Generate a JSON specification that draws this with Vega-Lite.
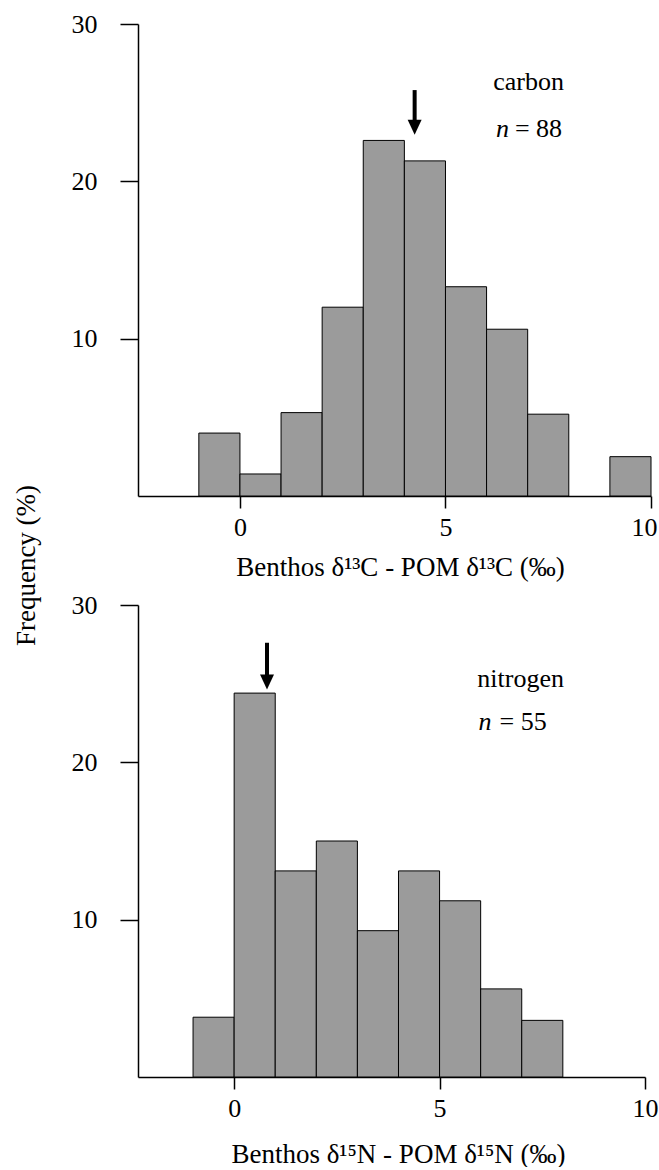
{
  "$schema": "https://vega.github.io/schema/vega-lite/v6.json",
  "background": "white",
  "padding": {"left": 12, "top": 11, "right": 2, "bottom": 0},
  "bounds": "flush",
  "spacing": 109,
  "config": {
    "view": {"stroke": null},
    "font": "Liberation Serif, Times New Roman, serif",
    "axis": {
      "domainColor": "black",
      "domainWidth": 1.5,
      "tickColor": "black",
      "tickWidth": 1.5,
      "labelColor": "black",
      "labelFont": "Liberation Serif, Times New Roman, serif",
      "labelFontSize": 26,
      "titleFont": "Liberation Serif, Times New Roman, serif",
      "titleFontSize": 27,
      "titleFontWeight": "normal",
      "titleColor": "black",
      "grid": false,
      "labelFlush": false,
      "labelOverlap": false
    }
  },
  "datasets": {
    "carbon": [
      {"bin_start": -1, "bin_end": 0, "freq": 4.0},
      {"bin_start": 0, "bin_end": 1, "freq": 1.4},
      {"bin_start": 1, "bin_end": 2, "freq": 5.3},
      {"bin_start": 2, "bin_end": 3, "freq": 12.0},
      {"bin_start": 3, "bin_end": 4, "freq": 22.6},
      {"bin_start": 4, "bin_end": 5, "freq": 21.3},
      {"bin_start": 5, "bin_end": 6, "freq": 13.3},
      {"bin_start": 6, "bin_end": 7, "freq": 10.6},
      {"bin_start": 7, "bin_end": 8, "freq": 5.2},
      {"bin_start": 9, "bin_end": 10, "freq": 2.5}
    ],
    "nitrogen": [
      {"bin_start": -1, "bin_end": 0, "freq": 3.8},
      {"bin_start": 0, "bin_end": 1, "freq": 24.4},
      {"bin_start": 1, "bin_end": 2, "freq": 13.1},
      {"bin_start": 2, "bin_end": 3, "freq": 15.0},
      {"bin_start": 3, "bin_end": 4, "freq": 9.3},
      {"bin_start": 4, "bin_end": 5, "freq": 13.1},
      {"bin_start": 5, "bin_end": 6, "freq": 11.2},
      {"bin_start": 6, "bin_end": 7, "freq": 5.6},
      {"bin_start": 7, "bin_end": 8, "freq": 3.6}
    ],
    "one": [{}]
  },
  "vconcat": [
    {
      "width": 513,
      "height": 472,
      "layer": [
        {
          "data": {"name": "carbon"},
          "mark": {"type": "rect", "fill": "#9b9b9b", "stroke": "black", "strokeWidth": 1},
          "encoding": {
            "x": {
              "field": "bin_start", "type": "quantitative",
              "scale": {"domain": [-2.48, 10], "nice": false, "zero": false},
              "axis": {
                "values": [0, 5, 10], "tickSize": 12, "labelPadding": 6,
                "labelFlush": true, "labelFlushOffset": 6,
                "title": "Benthos δ¹³C - POM δ¹³C (‰)",
                "titleX": 262, "titleY": 79, "titleBaseline": "alphabetic", "titleAlign": "center"
              }
            },
            "x2": {"field": "bin_end"},
            "y": {
              "field": "freq", "type": "quantitative",
              "scale": {"domain": [0, 30], "nice": false, "zero": true},
              "axis": {
                "values": [10, 20, 30], "tickSize": 18, "labelPadding": 23,
                "title": "Frequency (%)",
                "titleX": -112, "titleY": 541, "titleAngle": -90,
                "titleBaseline": "middle", "titleAlign": "center"
              }
            },
            "y2": {"datum": 0}
          }
        },
        {
          "data": {"name": "one"},
          "mark": {"type": "rule", "strokeWidth": 4, "color": "black"},
          "encoding": {
            "x": {"datum": 4.25, "type": "quantitative"},
            "y": {"datum": 25.8, "type": "quantitative"},
            "y2": {"datum": 23.7}
          }
        },
        {
          "data": {"name": "one"},
          "mark": {"type": "point", "shape": "M-0.93,-1L0.93,-1L0,1Z", "size": 225, "filled": true, "color": "black", "opacity": 1, "strokeWidth": 0},
          "encoding": {
            "x": {"datum": 4.25, "type": "quantitative"},
            "y": {"datum": 23.44, "type": "quantitative"}
          }
        },
        {
          "data": {"name": "one"},
          "mark": {"type": "text", "text": "carbon", "align": "left", "baseline": "alphabetic", "fontSize": 26, "font": "Liberation Serif, Times New Roman, serif", "color": "black"},
          "encoding": {
            "x": {"datum": 6.16, "type": "quantitative"},
            "y": {"datum": 25.82, "type": "quantitative"}
          }
        },
        {
          "data": {"name": "one"},
          "mark": {"type": "text", "text": "n", "align": "left", "baseline": "alphabetic", "fontSize": 26, "fontStyle": "italic", "font": "Liberation Serif, Times New Roman, serif", "color": "black"},
          "encoding": {
            "x": {"datum": 6.23, "type": "quantitative"},
            "y": {"datum": 22.83, "type": "quantitative"}
          }
        },
        {
          "data": {"name": "one"},
          "mark": {"type": "text", "text": "= 88", "align": "left", "baseline": "alphabetic", "fontSize": 26, "font": "Liberation Serif, Times New Roman, serif", "color": "black"},
          "encoding": {
            "x": {"datum": 6.69, "type": "quantitative"},
            "y": {"datum": 22.83, "type": "quantitative"}
          }
        }
      ]
    },
    {
      "width": 507,
      "height": 472,
      "layer": [
        {
          "data": {"name": "nitrogen"},
          "mark": {"type": "rect", "fill": "#9b9b9b", "stroke": "black", "strokeWidth": 1},
          "encoding": {
            "x": {
              "field": "bin_start", "type": "quantitative",
              "scale": {"domain": [-2.34, 10], "nice": false, "zero": false},
              "axis": {
                "values": [0, 5, 10], "tickSize": 12, "labelPadding": 6,
                "title": "Benthos δ¹⁵N - POM δ¹⁵N (‰)",
                "titleX": 260, "titleY": 85, "titleBaseline": "alphabetic", "titleAlign": "center"
              }
            },
            "x2": {"field": "bin_end"},
            "y": {
              "field": "freq", "type": "quantitative",
              "scale": {"domain": [0, 30], "nice": false, "zero": true},
              "axis": {
                "values": [10, 20, 30], "tickSize": 18, "labelPadding": 23,
                "title": null
              }
            },
            "y2": {"datum": 0}
          }
        },
        {
          "data": {"name": "one"},
          "mark": {"type": "rule", "strokeWidth": 4, "color": "black"},
          "encoding": {
            "x": {"datum": 0.8, "type": "quantitative"},
            "y": {"datum": 27.6, "type": "quantitative"},
            "y2": {"datum": 25.4}
          }
        },
        {
          "data": {"name": "one"},
          "mark": {"type": "point", "shape": "M-0.93,-1L0.93,-1L0,1Z", "size": 225, "filled": true, "color": "black", "opacity": 1, "strokeWidth": 0},
          "encoding": {
            "x": {"datum": 0.8, "type": "quantitative"},
            "y": {"datum": 25.11, "type": "quantitative"}
          }
        },
        {
          "data": {"name": "one"},
          "mark": {"type": "text", "text": "nitrogen", "align": "left", "baseline": "alphabetic", "fontSize": 26, "font": "Liberation Serif, Times New Roman, serif", "color": "black"},
          "encoding": {
            "x": {"datum": 5.92, "type": "quantitative"},
            "y": {"datum": 24.81, "type": "quantitative"}
          }
        },
        {
          "data": {"name": "one"},
          "mark": {"type": "text", "text": "n", "align": "left", "baseline": "alphabetic", "fontSize": 26, "fontStyle": "italic", "font": "Liberation Serif, Times New Roman, serif", "color": "black"},
          "encoding": {
            "x": {"datum": 5.95, "type": "quantitative"},
            "y": {"datum": 22.07, "type": "quantitative"}
          }
        },
        {
          "data": {"name": "one"},
          "mark": {"type": "text", "text": "= 55", "align": "left", "baseline": "alphabetic", "fontSize": 26, "font": "Liberation Serif, Times New Roman, serif", "color": "black"},
          "encoding": {
            "x": {"datum": 6.46, "type": "quantitative"},
            "y": {"datum": 22.07, "type": "quantitative"}
          }
        }
      ]
    }
  ]
}
